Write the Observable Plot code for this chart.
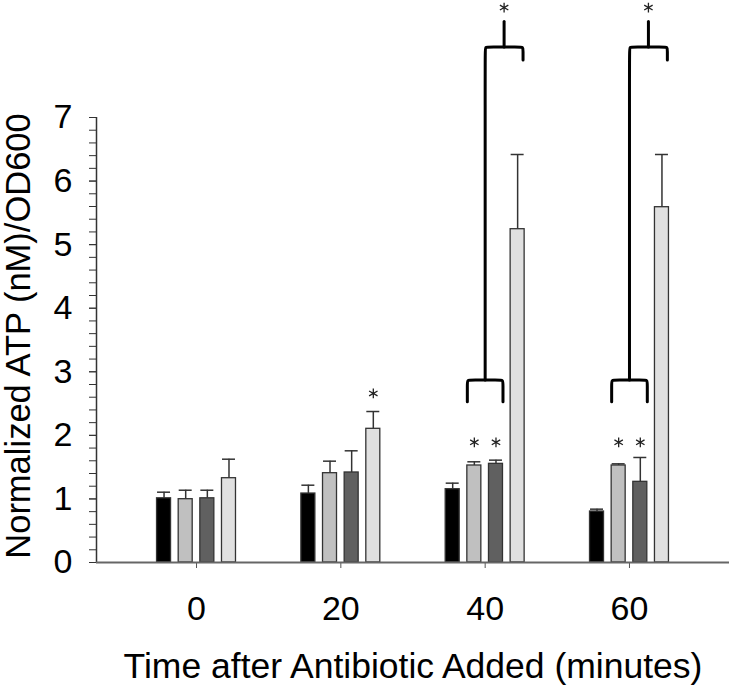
<!DOCTYPE html>
<html><head><meta charset="utf-8">
<script src="https://cdn.jsdelivr.net/npm/d3@7"></script>
<script src="https://cdn.jsdelivr.net/npm/@observablehq/plot@0.6"></script>
<style>html,body{margin:0;padding:0;background:#fff}</style>
</head><body><div id="chart"></div>
<script>
// ---- data ----
const times = [0, 20, 40, 60];
const yTicks = [0, 1, 2, 3, 4, 5, 6, 7];
const seriesFills = ["#000000", "#c0c0c0", "#606060", "#e0e0e0"];
const meansA = [1.01, 1.085, 1.153, 0.802];
const meansB = [0.996, 1.405, 1.526, 1.526];
const meansC = [1.01, 1.416, 1.552, 1.269];
const meansD = [1.326, 2.103, 5.243, 5.589];
const errA = [0.096, 0.131, 0.095, 0.037];
const errB = [0.141, 0.189, 0.058, 0.026];
const errC = [0.127, 0.341, 0.058, 0.383];
const errD = [0.299, 0.272, 1.175, 0.829];
// single significance stars: [time, series index, y value]
const starTimes = [20, 40, 40, 60, 60];
const starSeries = [3, 1, 2, 1, 2];
const starValues = [2.66, 1.89, 1.89, 1.89, 1.89];
// bracket annotations (groups 40 and 60): B+C vs D
const bracketTimes = [40, 60];
const lowerBraceBottom = 2.53, lowerBraceTop = 2.87;
const upperBraceLevel = 8.11, upperBraceEnd = 7.905, upperStemTop = 8.51, upperStar = 8.73;

// ---- layout constants ----
const offsets = [-4.5, -1.5, 1.5, 4.5];   // minutes from group centre
const halfW = 0.97, capHalf = 0.9;
const xDomain = [-13.86, 73.86];
const pxPerMin = 633 / (xDomain[1] - xDomain[0]);
const pxPerUnit = (562 - 117) / 7;
const rx = 4 / pxPerMin, ry = 4 / pxPerUnit;

const means = [meansA, meansB, meansC, meansD];
const errs = [errA, errB, errC, errD];
const rows = [];
times.forEach((t, i) => means.forEach((m, s) => rows.push({time: t, s, value: m[i], err: errs[s][i]})));
const cx = d => d.time + offsets[d.s];

const stars = starTimes.map((t, i) => ({x: t + offsets[starSeries[i]], y: starValues[i]}));

const bracePts = [];
bracketTimes.forEach((t, k) => {
  const L = t + offsets[1] - halfW, R = t + offsets[2] + halfW;
  const id1 = "low" + k;
  [[L, lowerBraceBottom], [L, lowerBraceTop - ry], [L, lowerBraceTop], [L + rx, lowerBraceTop],
   [R - rx, lowerBraceTop], [R, lowerBraceTop], [R, lowerBraceTop - ry], [R, lowerBraceBottom]]
    .forEach(([x, y]) => bracePts.push({id: id1, x, y}));
  const E = t + offsets[3] + 0.75, id2 = "up" + k;
  [[t, lowerBraceTop], [t, upperBraceLevel - ry], [t, upperBraceLevel], [t + rx, upperBraceLevel],
   [E - rx, upperBraceLevel], [E, upperBraceLevel], [E, upperBraceLevel - ry], [E, upperBraceEnd]]
    .forEach(([x, y]) => bracePts.push({id: id2, x, y}));
  const S = (t + E) / 2;
  bracePts.push({id: "stem" + k, x: S, y: upperBraceLevel}, {id: "stem" + k, x: S, y: upperStemTop});
  stars.push({x: S, y: upperStar});
});

const font = "'Liberation Sans', Arial, Helvetica, sans-serif";
const plot = Plot.plot({
  width: 731, height: 685,
  marginLeft: 96, marginRight: 2, marginTop: 117, marginBottom: 123,
  x: {domain: xDomain},
  y: {domain: [0, 7]},
  color: {type: "identity"},
  style: {fontFamily: font, background: "#fff", color: "#000"},
  marks: [
    Plot.axisY({ticks: d3.range(0, 36).map(i => i / 5), tickSize: 7, tickFormat: () => "", label: null, stroke: "#333"}),
    Plot.axisY({ticks: yTicks, tickSize: 7, tickPadding: 17, fontSize: 34, label: null, stroke: "#333", fill: "#000", tickFormat: d => String(d)}),
    Plot.axisX({ticks: times, tickSize: 6, tickPadding: 27, fontSize: 34, label: null, stroke: "#555", fill: "#000", tickFormat: d => String(d)}),
    Plot.ruleX([xDomain[0]], {y1: 0, y2: 7, stroke: "#333", strokeWidth: 1.5}),
    Plot.ruleX(rows, {x: cx, y1: "value", y2: d => d.value + d.err, stroke: "#333", strokeWidth: 1.5}),
    Plot.ruleY(rows, {y: d => d.value + d.err, x1: d => cx(d) - capHalf, x2: d => cx(d) + capHalf, stroke: "#333", strokeWidth: 1.5}),
    Plot.rectY(rows, {x1: d => cx(d) - halfW, x2: d => cx(d) + halfW, y1: 0, y2: "value", fill: d => seriesFills[d.s], stroke: "#333", strokeWidth: 1.3}),
    Plot.ruleY([0], {stroke: "#666", strokeWidth: 2}),
    Plot.line(bracePts, {x: "x", y: "y", z: "id", curve: "basis", stroke: "#000", strokeWidth: 3, strokeLinejoin: "round"}),
    Plot.dot(stars, {x: "x", y: "y", symbol: "asterisk", r: 4.6, stroke: "#222", strokeWidth: 1.3}),
    Plot.text(["Time after Antibiotic Added (minutes)"], {text: d => d, frameAnchor: "bottom", textAnchor: "middle", dy: 104.5, fontSize: 35.5, lineAnchor: "middle", fill: "#000"}),
    Plot.text(["Normalized ATP (nM)/OD600"], {text: d => d, frameAnchor: "left", textAnchor: "middle", dx: -78, dy: -4, rotate: -90, fontSize: 34.5, lineAnchor: "middle", fill: "#000"})
  ]
});
document.getElementById("chart").append(plot);
</script>
</body></html>
